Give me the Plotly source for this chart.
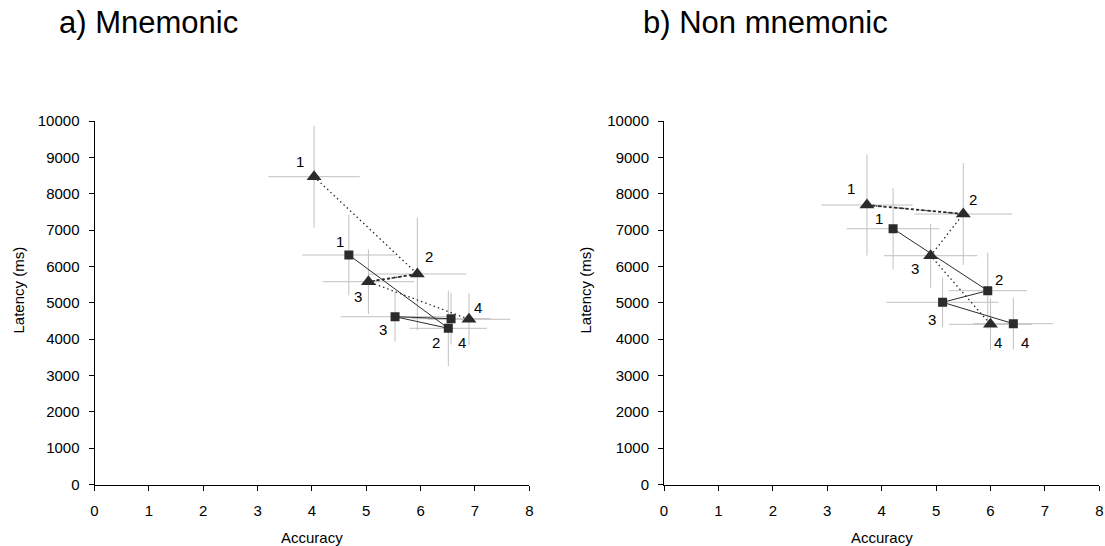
import plotly.graph_objects as go

# ---------------- data ----------------
point_labels = ["1", "2", "3", "4"]

# a) Mnemonic
sq_x_a = [4.68, 6.51, 5.53, 6.56]
sq_y_a = [6314, 4297, 4616, 4561]
sq_ex_a = [0.86, 0.71, 1.00, 0.73]
sq_ey_a = [1110, 1040, 690, 710]
tri_x_a = [4.04, 5.94, 5.04, 6.89]
tri_y_a = [8468, 5791, 5579, 4545]
tri_ex_a = [0.84, 0.90, 0.84, 0.76]
tri_ey_a = [1400, 1550, 890, 715]

# b) Non mnemonic
sq_x_b = [4.21, 5.95, 5.12, 6.42]
sq_y_b = [7037, 5332, 5012, 4424]
sq_ex_b = [0.85, 0.72, 1.03, 0.73]
sq_ey_b = [1115, 1045, 680, 710]
tri_x_b = [3.73, 5.50, 4.90, 6.00]
tri_y_b = [7689, 7441, 6294, 4407]
tri_ex_b = [0.84, 0.90, 0.86, 0.76]
tri_ey_b = [1390, 1400, 880, 710]

x_ticks = [0, 1, 2, 3, 4, 5, 6, 7, 8]
y_ticks = [0, 1000, 2000, 3000, 4000, 5000, 6000, 7000, 8000, 9000, 10000]

# ---------------- styles (label pixel offsets, heavy-dash segment index) ----------------
off_tri_a = [(-14, -15), (12, -18), (-10, 15), (9, -12)]
off_sq_a = [(-9, -13), (-12, 14), (-12, 13), (11, 24)]
off_tri_b = [(-16, -17), (10, -15), (-16, 13), (8, 18)]
off_sq_b = [(-14, -10), (11, -11), (-11, 17), (12, 19)]
heavy_seg_a = 1
heavy_seg_b = 0

FONT = "Arial, Liberation Sans, sans-serif"
MARK = "#2b2b2b"
ERR = "#c0c0c0"
W, H = 1105, 546

fig = go.Figure()


def add_panel(xa, ya, sx, sy, sex, sey, tx, ty, tex, tey, off_s, off_t, heavy):
    # error bars first (behind)
    for x, y, ex, ey in ((sx, sy, sex, sey), (tx, ty, tex, tey)):
        fig.add_trace(go.Scatter(
            x=x, y=y, xaxis=xa, yaxis=ya, mode="markers",
            marker=dict(size=1, color="rgba(0,0,0,0)"),
            error_x=dict(type="data", array=ex, color=ERR, thickness=1, width=0),
            error_y=dict(type="data", array=ey, color=ERR, thickness=1, width=0),
            showlegend=False, hoverinfo="skip"))
    # dotted triangle path
    fig.add_trace(go.Scatter(
        x=tx, y=ty, xaxis=xa, yaxis=ya, mode="lines",
        line=dict(color=MARK, width=1.3, dash="1.5px,3px"),
        showlegend=False, hoverinfo="skip"))
    # the shallow segment renders as a heavier dash in the original
    fig.add_trace(go.Scatter(
        x=tx[heavy:heavy + 2], y=ty[heavy:heavy + 2], xaxis=xa, yaxis=ya, mode="lines",
        line=dict(color=MARK, width=1.8, dash="3px,2.5px"),
        showlegend=False, hoverinfo="skip"))
    fig.add_trace(go.Scatter(
        x=tx, y=ty, xaxis=xa, yaxis=ya, mode="markers",
        marker=dict(symbol="triangle-up", size=13, color=MARK),
        showlegend=False))
    fig.add_trace(go.Scatter(
        x=sx, y=sy, xaxis=xa, yaxis=ya, mode="lines+markers",
        line=dict(color=MARK, width=1),
        marker=dict(symbol="square", size=9, color=MARK),
        showlegend=False))
    xr = "x" if xa == "x" else "x2"
    yr = "y" if ya == "y" else "y2"
    for xs, ys, offs in ((sx, sy, off_s), (tx, ty, off_t)):
        for i, lab in enumerate(point_labels):
            fig.add_annotation(x=xs[i], y=ys[i], xref=xr, yref=yr, text=lab,
                               showarrow=False, xshift=offs[i][0], yshift=-offs[i][1],
                               font=dict(family=FONT, size=15, color="black"))


add_panel("x", "y", sx=sq_x_a, sy=sq_y_a, sex=sq_ex_a, sey=sq_ey_a,
          tx=tri_x_a, ty=tri_y_a, tex=tri_ex_a, tey=tri_ey_a,
          off_s=off_sq_a, off_t=off_tri_a, heavy=heavy_seg_a)
add_panel("x2", "y2", sx=sq_x_b, sy=sq_y_b, sex=sq_ex_b, sey=sq_ey_b,
          tx=tri_x_b, ty=tri_y_b, tex=tri_ex_b, tey=tri_ey_b,
          off_s=off_sq_b, off_t=off_tri_b, heavy=heavy_seg_b)

y_dom = [(H - 484.5) / H, (H - 121) / H]
xdom_a = [94.5 / W, 529.3 / W]
xdom_b = [664 / W, 1099.3 / W]

axis_common = dict(showline=True, linecolor="black", linewidth=1, ticks="outside",
                   ticklen=5, tickcolor="black", showgrid=False, zeroline=False,
                   automargin=False,
                   tickfont=dict(family=FONT, size=15, color="black"))
x_extra = dict(ticklabelstandoff=7)
y_extra = dict(ticklabelstandoff=6)

fig.update_layout(
    width=W, height=H, margin=dict(l=0, r=0, t=0, b=0),
    paper_bgcolor="white", plot_bgcolor="white",
    xaxis=dict(domain=xdom_a, range=[0, 8], tickvals=x_ticks, anchor="y", **axis_common, **x_extra),
    yaxis=dict(domain=y_dom, range=[0, 10000], tickvals=y_ticks, tickformat="d", anchor="x",
               **axis_common, **y_extra),
    xaxis2=dict(domain=xdom_b, range=[0, 8], tickvals=x_ticks, anchor="y2", **axis_common, **x_extra),
    yaxis2=dict(domain=y_dom, range=[0, 10000], tickvals=y_ticks, tickformat="d", anchor="x2",
                **axis_common, **y_extra),
)

# titles and axis titles
for xpos, txt in ((57 / W, "a) Mnemonic"), (641 / W, "b) Non mnemonic")):
    fig.add_annotation(x=xpos, y=(H - 23) / H, xref="paper", yref="paper", text=txt,
                       showarrow=False, xanchor="left", yanchor="middle",
                       font=dict(family=FONT, size=31, color="black"))
for dom, lx in ((xdom_a, 17.5), (xdom_b, 584.5)):
    fig.add_annotation(x=(dom[0] + dom[1]) / 2, y=(H - 537) / H, xref="paper", yref="paper",
                       text="Accuracy", showarrow=False, xanchor="center", yanchor="middle",
                       font=dict(family=FONT, size=15, color="black"))
    fig.add_annotation(x=lx / W, y=(H - 290) / H, xref="paper", yref="paper",
                       text="Latency (ms)", textangle=-90, showarrow=False,
                       xanchor="center", yanchor="middle",
                       font=dict(family=FONT, size=15, color="black"))

# remove the default 8px page margin so the 1105x546 figure fills the window exactly
ps = """
document.body.style.margin='0';
document.documentElement.style.overflow='hidden';
var gd=document.getElementById('{plot_id}');
Plotly.relayout(gd, {'paper_bgcolor': 'white'});
"""
fig.write_html("out.html", post_script=ps)
